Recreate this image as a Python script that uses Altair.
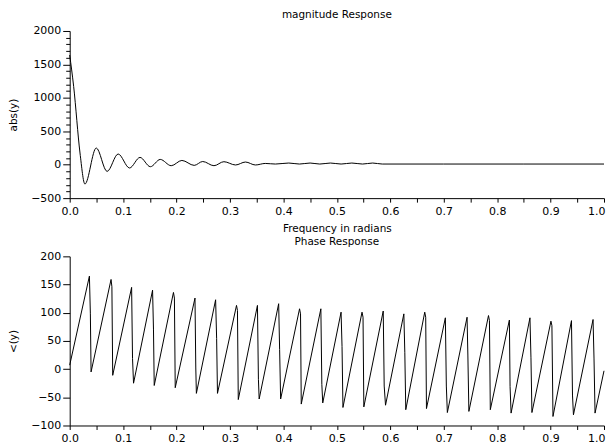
import altair as alt
import pandas as pd

# ---- magnitude response ----
mag_x = [0.0, 0.0074, 0.0193, 0.0285, 0.0497, 0.070, 0.0907, 0.112, 0.1316, 0.151,
         0.1695, 0.190, 0.210, 0.233, 0.249, 0.270, 0.2886, 0.3104, 0.329, 0.3476,
         0.366, 0.385, 0.41, 0.43, 0.45, 0.468, 0.488, 0.508, 0.528, 0.548, 0.567,
         0.585, 0.7, 0.85, 1.0]
mag_y = [1640, 1172, 175, -289, 250, -100, 160, -49, 109, -30,
         79, -15, 64, -10, 48, -15, 45, -4, 40, -4,
         19, 10, 25, 10, 25, 10, 25, 10, 25, 10, 25,
         10, 10, 10, 10]

# ---- phase response ----
phase_x = [0.0,
           0.0369, 0.0387, 0.0400,
           0.0774, 0.0790, 0.0805,
           0.1159, 0.1176, 0.1195,
           0.1551, 0.1568, 0.1582,
           0.1942, 0.1960, 0.1975,
           0.2345, 0.2360, 0.2371,
           0.2731, 0.2750, 0.2766,
           0.3122, 0.3140, 0.3155,
           0.3514, 0.3532, 0.3546,
           0.3911, 0.3929, 0.3948,
           0.4302, 0.4320, 0.4334,
           0.4701, 0.4719, 0.4736,
           0.5079, 0.5097, 0.5114,
           0.5471, 0.5490, 0.5505,
           0.5868, 0.5886, 0.5911,
           0.6254, 0.6272, 0.6290,
           0.6645, 0.6663, 0.6677,
           0.7031, 0.7049, 0.7068,
           0.7437, 0.7452, 0.7471,
           0.7838, 0.7856, 0.7872,
           0.8229, 0.8242, 0.8261,
           0.8614, 0.8633, 0.8651,
           0.9007, 0.9025, 0.9045,
           0.9391, 0.9410, 0.9428,
           0.9795, 0.9813, 0.9832,
           1.0]
phase_y = [7,
           165, 98, -5,
           159, 146, -11,
           145, 19, -25,
           140, 71, -29,
           136, 126, -33,
           126, 2, -43,
           123, 54, -43,
           113, 104, -54,
           113, -18, -53,
           116, 35, -53,
           107, 98, -62,
           107, -27, -60,
           101, 40, -68,
           101, 92, -67,
           103, -30, -64,
           98, 29, -72,
           101, 92, -70,
           91, -30, -77,
           92, 25, -75,
           95, 86, -72,
           87, -31, -78,
           91, 20, -77,
           85, 77, -84,
           86, -46, -81,
           88, 18, -78,
           -3]

x_ticks = [0.0, 0.05, 0.1, 0.15, 0.2, 0.25, 0.3, 0.35, 0.4, 0.45, 0.5,
           0.55, 0.6, 0.65, 0.7, 0.75, 0.8, 0.85, 0.9, 0.95, 1.0]
mag_ticks = [-500, -400, -300, -200, -100, 0, 100, 200, 300, 400, 500, 600, 700, 800,
             900, 1000, 1100, 1200, 1300, 1400, 1500, 1600, 1700, 1800, 1900, 2000]
phase_ticks = [-100, -50, 0, 50, 100, 150, 200]

mag_df = pd.DataFrame({"f": mag_x, "v": mag_y})
phase_df = pd.DataFrame({"f": phase_x, "v": phase_y})

FONT = "DejaVu Sans"
x_major = "abs(datum.value*10 - round(datum.value*10)) < 1e-6"


def x_axis(title):
    return alt.Axis(
        values=x_ticks,
        labelExpr=f"{x_major} ? format(datum.value, '.1f') : ''",
        labelAlign={"condition": {"test": "datum.value === 1", "value": "right"}, "value": "center"},
        labelOffset={"condition": {"test": "datum.value === 1", "value": 1}, "value": 0},
        tickSize=4, grid=False, domainColor="black", tickColor="black",
        labelColor="black", labelFont=FONT, labelFontSize=11,
        labelFlush=False, labelPadding=3, labelOverlap=False,
        title=title, titleFont=FONT, titleFontSize=10.5, titleFontWeight="normal",
        titleColor="black", titlePadding=8,
    )


top = alt.Chart(mag_df).mark_line(color="black", strokeWidth=1, interpolate="monotone").encode(
    x=alt.X("f:Q", scale=alt.Scale(domain=[0, 1], nice=False, zero=False),
            axis=x_axis("Frequency in radians")),
    y=alt.Y("v:Q", scale=alt.Scale(domain=[-500, 2000], nice=False),
            axis=alt.Axis(
                values=mag_ticks,
                labelExpr="datum.value % 500 === 0 ? format(datum.value, 'd') : ''",
                tickSize={"condition": {"test": "datum.value % 500 === 0", "value": 7}, "value": 4},
                grid=False, domainColor="black", tickColor="black",
                labelColor="black", labelFont=FONT, labelFontSize=11, labelPadding=2,
                labelOverlap=False,
                title="abs(y)", titleFont=FONT, titleFontSize=10.5, titleFontWeight="normal",
                titleColor="black", titlePadding=12)),
).properties(
    width=537, height=168,
    title=alt.TitleParams("magnitude Response", font=FONT, fontSize=10.5, fontWeight="normal",
                          color="black", anchor="middle", offset=5),
)

bottom = alt.Chart(phase_df).mark_line(color="black", strokeWidth=1).encode(
    x=alt.X("f:Q", scale=alt.Scale(domain=[0, 1], nice=False, zero=False),
            axis=x_axis(None)),
    y=alt.Y("v:Q", scale=alt.Scale(domain=[-100, 200], nice=False),
            axis=alt.Axis(
                values=phase_ticks, format="d", tickSize=7,
                grid=False, domainColor="black", tickColor="black",
                labelColor="black", labelFont=FONT, labelFontSize=11, labelPadding=2,
                title="<(y)", titleFont=FONT, titleFontSize=10.5, titleFontWeight="normal",
                titleColor="black", titlePadding=12)),
).properties(
    width=537, height=170,
    title=alt.TitleParams("Phase Response", font=FONT, fontSize=10.5, fontWeight="normal",
                          color="black", anchor="middle", offset=2.5),
)

chart = alt.vconcat(top, bottom, spacing=2.5).properties(
    padding={"left": 0, "top": 0, "right": 0, "bottom": 0},
    background="white",
).configure_view(stroke=None)

chart.save("out.html", embed_options={"renderer": "svg", "actions": False})
